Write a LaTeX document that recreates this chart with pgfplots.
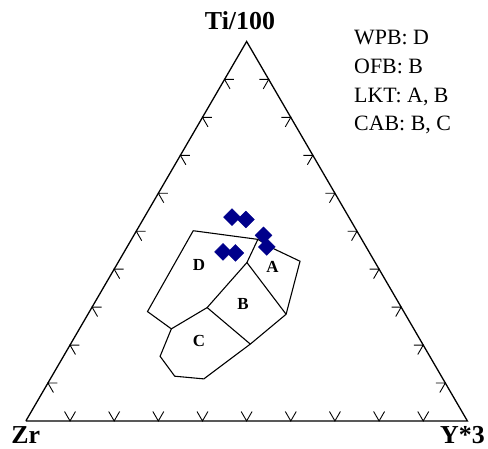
\documentclass[border=0pt]{standalone}
\usepackage{fontspec}
\setmainfont{Liberation Serif}
\usepackage{pgfplots}
\pgfplotsset{compat=1.18}
\definecolor{ptblue}{RGB}{0,0,139}

\begin{document}
\begin{tikzpicture}
\begin{axis}[
  width=488pt, height=451pt, scale only axis,
  xmin=0, xmax=488, ymin=0, ymax=451,
  hide axis, clip=false,
]
% keep full page size
\addplot[draw=none, forget plot] coordinates {(0,0) (488,451)};

% triangle Zr - Y*3 - Ti/100
\addplot[black, line width=1.3pt] coordinates {(26,27.7) (470,27.7) (248,409.3) (26,27.7)};

% tick marks
\addplot[black, line width=0.9pt] coordinates {
(64.9,37.2) (70.4,27.7) (75.9,37.2)

(109.3,37.2) (114.8,27.7) (120.3,37.2)

(153.7,37.2) (159.2,27.7) (164.7,37.2)

(198.1,37.2) (203.6,27.7) (209.1,37.2)

(242.5,37.2) (248.0,27.7) (253.5,37.2)

(286.9,37.2) (292.4,27.7) (297.9,37.2)

(331.3,37.2) (336.8,27.7) (342.3,37.2)

(375.7,37.2) (381.2,27.7) (386.7,37.2)

(420.1,37.2) (425.6,27.7) (431.1,37.2)

(57.7,65.86) (48.2,65.86) (53.7,56.36)

(79.9,104.02) (70.4,104.02) (75.9,94.52)

(102.1,142.18) (92.6,142.18) (98.1,132.68)

(124.3,180.34) (114.8,180.34) (120.3,170.84)

(146.5,218.5) (137.0,218.5) (142.5,209.0)

(168.7,256.66) (159.2,256.66) (164.7,247.16)

(190.9,294.82) (181.4,294.82) (186.9,285.32)

(213.1,332.98) (203.6,332.98) (209.1,323.48)

(235.3,371.14) (225.8,371.14) (231.3,361.64)

(438.3,65.86) (447.8,65.86) (442.3,56.36)

(416.1,104.02) (425.6,104.02) (420.1,94.52)

(393.9,142.18) (403.4,142.18) (397.9,132.68)

(371.7,180.34) (381.2,180.34) (375.7,170.84)

(349.5,218.5) (359.0,218.5) (353.5,209.0)

(327.3,256.66) (336.8,256.66) (331.3,247.16)

(305.1,294.82) (314.6,294.82) (309.1,285.32)

(282.9,332.98) (292.4,332.98) (286.9,323.48)

(260.7,371.14) (270.2,371.14) (264.7,361.64)
};

% discrimination fields
\addplot[black, line width=1.1pt] coordinates {
(194.3,219.0) (259.3,210.3) (275.0,201.0) (301.7,188.3) (287.7,135.0)
(251.7,105.0) (205.0,70.0) (175.7,72.7) (161.0,92.7) (172.3,120.3)
(148.3,137.7) (194.3,219.0)
};
\addplot[black, line width=1.1pt] coordinates {
(259.3,210.3) (248.3,187.0) (208.3,141.7) (172.3,120.3)

(248.3,187.0) (287.7,135.0)

(208.3,141.7) (251.7,105.0)
};

% samples
\addplot[only marks, mark=square*, mark size=6pt, color=ptblue,
  mark options={rotate=45}] coordinates {
(233.3,232.7) (247.3,230.3) (265.0,214.3) (268.3,202.7) (224.3,197.7) (236.7,196.7)
};

% field labels
\node[font=\fontsize{17}{19}\selectfont\bfseries] at (axis cs:200,184.3) {D};
\node[font=\fontsize{17}{19}\selectfont\bfseries] at (axis cs:274,182.7) {A};
\node[font=\fontsize{17}{19}\selectfont\bfseries] at (axis cs:244.3,145) {B};
\node[font=\fontsize{17}{19}\selectfont\bfseries] at (axis cs:200,108.3) {C};

% apex labels
\node[font=\fontsize{26}{30}\selectfont\bfseries] at (axis cs:241.3,430) {Ti/100};
\node[font=\fontsize{26}{30}\selectfont\bfseries] at (axis cs:26,13.2) {Zr};
\node[font=\fontsize{26}{30}\selectfont\bfseries] at (axis cs:465,13.2) {Y*3};

% key
\node[anchor=base west, inner sep=0pt, font=\fontsize{22}{26}\selectfont] at (axis cs:356,406) {WPB: D};
\node[anchor=base west, inner sep=0pt, font=\fontsize{22}{26}\selectfont] at (axis cs:356,376.7) {OFB: B};
\node[anchor=base west, inner sep=0pt, font=\fontsize{22}{26}\selectfont] at (axis cs:356,347.7) {LKT: A, B};
\node[anchor=base west, inner sep=0pt, font=\fontsize{22}{26}\selectfont] at (axis cs:356,319.3) {CAB: B, C};
\end{axis}
\end{tikzpicture}
\end{document}
